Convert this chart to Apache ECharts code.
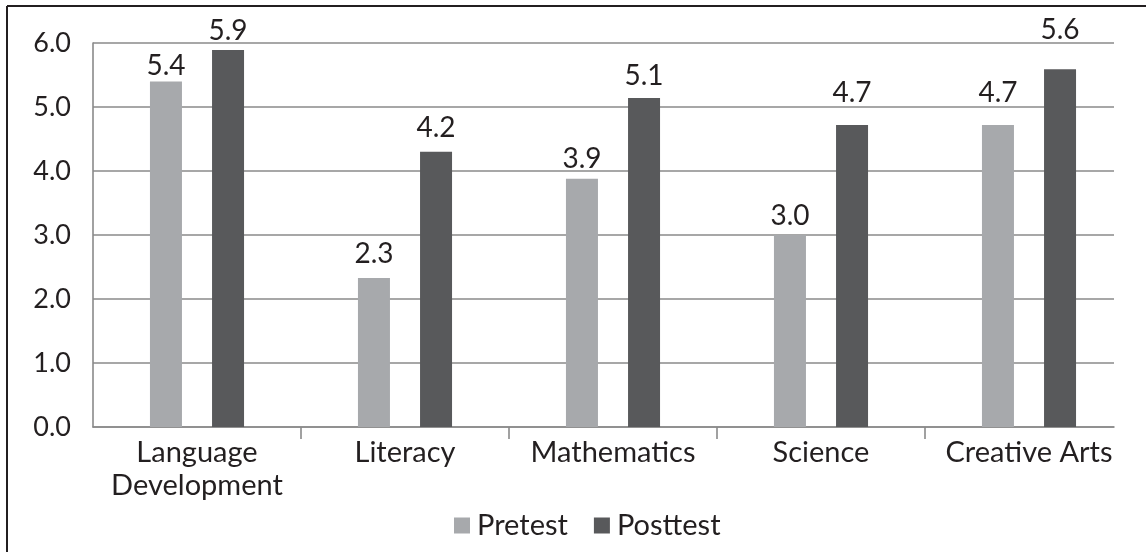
<!DOCTYPE html>
<html>
<head>
<meta charset="utf-8">
<script src="https://cdn.jsdelivr.net/npm/echarts@6/dist/echarts.min.js"></script>
<style>
html,body{margin:0;padding:0;background:#fff;}
#chart{width:1146px;height:552px;}
</style>
</head>
<body>
<div id="chart"></div>
<script>
// ---- data ----
var categories = ['Language\nDevelopment', 'Literacy', 'Mathematics', 'Science', 'Creative Arts'];
var seriesNames = ['Pretest', 'Posttest'];
var pretest = [5.4, 2.33, 3.88, 3.0, 4.72];
var posttest = [5.89, 4.3, 5.14, 4.72, 5.59];
var pretestLabels = ['5.4', '2.3', '3.9', '3.0', '4.7'];
var posttestLabels = ['5.9', '4.2', '5.1', '4.7', '5.6'];
var yTicks = [0, 1, 2, 3, 4, 5, 6];

// ---- styling ----
var FONT = 'Lato';
var TEXT = '#231f20';
var GRIDC = '#8a8a8a';
var preGap = [1, 10, 6, 5, 18];
var postGap = [5, 10, 8, 18, 25];

function items(vals, labels, gaps) {
  return vals.map(function (v, i) {
    return { value: v, label: { distance: gaps[i], formatter: labels[i] } };
  });
}

var chart = echarts.init(document.getElementById('chart'));
chart.setOption({
  animation: false,
  textStyle: { fontFamily: FONT, color: TEXT },
  grid: [
    { left: 93, top: 43, width: 1040, height: 384 },
    { left: 93, top: 43, width: 1021, height: 384 }
  ],
  xAxis: [
    {
      type: 'category', gridIndex: 0, data: categories,
      axisLine: { show: false }, axisTick: { show: false },
      axisLabel: { fontFamily: FONT, fontSize: 29, lineHeight: 33, color: TEXT, margin: 9, interval: 0 }
    },
    {
      type: 'value', gridIndex: 1, min: 0, max: 4.91,
      axisLabel: { show: false }, splitLine: { show: false },
      axisLine: { show: true, lineStyle: { color: GRIDC, width: 1.6 } },
      axisTick: { show: true, customValues: [1, 2, 3, 4], length: 12, lineStyle: { color: GRIDC, width: 1.6 } }
    }
  ],
  yAxis: [
    { type: 'value', gridIndex: 0, min: 0, max: 6, interval: 1, show: false },
    {
      type: 'value', gridIndex: 1, min: yTicks[0], max: yTicks[yTicks.length - 1], interval: 1,
      axisLine: { show: true, lineStyle: { color: GRIDC, width: 1.6 } },
      axisTick: { show: false },
      splitLine: { show: true, lineStyle: { color: GRIDC, width: 1.6 } },
      axisLabel: {
        fontFamily: FONT, fontSize: 27, color: TEXT, margin: 22,
        formatter: function (v) { return v.toFixed(1); }
      }
    }
  ],
  legend: {
    data: seriesNames, left: 454, top: 511, padding: 0,
    icon: 'rect', itemWidth: 16, itemHeight: 16, itemGap: 26,
    textStyle: { fontFamily: FONT, fontSize: 29, color: TEXT, padding: [0, 0, 0, 2] }
  },
  series: [
    {
      name: seriesNames[0], type: 'bar', xAxisIndex: 0, yAxisIndex: 0,
      barWidth: 32, barGap: '94%',
      itemStyle: { color: '#a7a9ac' },
      label: { show: true, position: 'top', fontFamily: FONT, fontSize: 28, color: TEXT },
      data: items(pretest, pretestLabels, preGap)
    },
    {
      name: seriesNames[1], type: 'bar', xAxisIndex: 0, yAxisIndex: 0,
      barWidth: 32, barGap: '94%',
      itemStyle: { color: '#58595b' },
      label: { show: true, position: 'top', fontFamily: FONT, fontSize: 28, color: TEXT },
      data: items(posttest, posttestLabels, postGap)
    }
  ],
  graphic: [
    { type: 'line', shape: { x1: 7, y1: 6, x2: 1146, y2: 6 }, style: { stroke: '#231f20', lineWidth: 2 } },
    { type: 'line', shape: { x1: 7, y1: 6, x2: 7, y2: 552 }, style: { stroke: '#231f20', lineWidth: 2 } }
  ]
});
</script>
</body>
</html>
